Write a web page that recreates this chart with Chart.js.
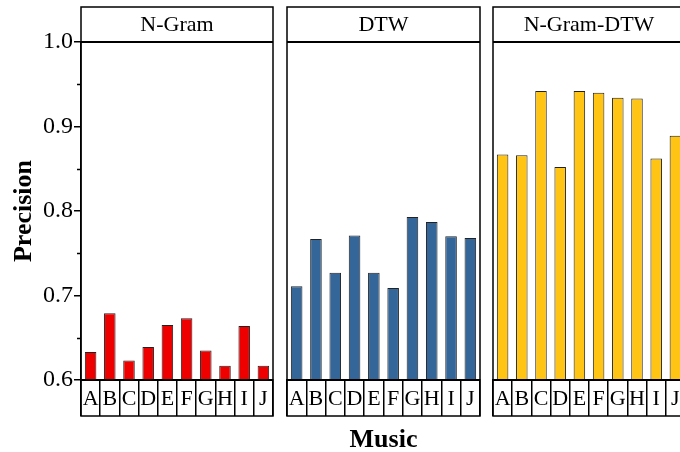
<!DOCTYPE html>
<html><head><meta charset="utf-8">
<script src="https://cdn.jsdelivr.net/npm/chart.js@4/dist/chart.umd.min.js"></script>
<style>
html,body{margin:0;padding:0;width:680px;height:452px;overflow:hidden;background:#fff;position:relative}
canvas{position:absolute;top:0}
</style></head><body>
<canvas id="c0" width="280" height="452" style="left:0"></canvas>
<canvas id="c1" width="210" height="452" style="left:280px"></canvas>
<canvas id="c2" width="200" height="452" style="left:487px"></canvas>
<script>
const categories = ['A','B','C','D','E','F','G','H','I','J'];
const panelTitles = ['N-Gram','DTW','N-Gram-DTW'];
const ngramValues = [0.633,0.679,0.623,0.639,0.665,0.673,0.635,0.617,0.664,0.617];
const dtwValues = [0.711,0.767,0.727,0.771,0.727,0.709,0.793,0.787,0.770,0.768];
const ngramDtwValues = [0.867,0.866,0.942,0.852,0.942,0.940,0.934,0.933,0.862,0.889];
const yTicks = [0.6,0.7,0.8,0.9,1.0];
const yMinorTicks = [0.65,0.75,0.85,0.95];
const xAxisTitle = 'Music';
const yAxisTitle = 'Precision';

const SERIF = '"Liberation Serif", "Times New Roman", serif';
const STRIP_H = 35;   // title strip height
const BOX_H = 36;     // category box strip height

const framePlugin = {
  id: 'frame',
  afterDatasetsDraw(chart, args, opts) {
    const {ctx, chartArea: a} = chart;
    const top = a.top - STRIP_H, bot = a.bottom + BOX_H;
    ctx.save();
    ctx.strokeStyle = '#000';
    ctx.lineWidth = 1.5;
    ctx.strokeRect(a.left, top, a.right - a.left, bot - top);
    ctx.lineWidth = 2;
    ctx.beginPath();
    ctx.moveTo(a.left, a.top); ctx.lineTo(a.right, a.top);
    ctx.moveTo(a.left, a.bottom); ctx.lineTo(a.right, a.bottom);
    ctx.stroke();
    ctx.fillStyle = '#000';
    ctx.font = '22px ' + SERIF;
    ctx.textAlign = 'center';
    ctx.textBaseline = 'middle';
    ctx.fillText(opts.title, (a.left + a.right) / 2, (top + a.top) / 2 + 1);
    if (opts.minor) {
      const ys = chart.scales.y;
      ctx.lineWidth = 1.5;
      ctx.beginPath();
      yMinorTicks.forEach(v => {
        const p = Math.round(ys.getPixelForValue(v)) + 0.5;
        ctx.moveTo(a.left - 4, p); ctx.lineTo(a.left, p);
      });
      ctx.stroke();
    }
    ctx.restore();
  }
};

function makePanel(id, idx, values, color, pad, showY, showXTitle) {
  new Chart(document.getElementById(id), {
    type: 'bar',
    data: {
      labels: categories,
      datasets: [{
        data: values,
        backgroundColor: color,
        borderColor: '#222',
        borderWidth: 1,
        borderSkipped: false,
        barPercentage: 0.6,
        categoryPercentage: 1.0
      }]
    },
    options: {
      responsive: false,
      animation: false,
      events: [],
      layout: { padding: pad },
      plugins: {
        legend: { display: false },
        tooltip: { enabled: false },
        frame: { title: panelTitles[idx], minor: showY }
      },
      scales: {
        x: {
          afterFit: s => { s.height = 72; },
          grid: {
            display: true, drawOnChartArea: false, drawTicks: true,
            tickLength: BOX_H, color: '#000', lineWidth: 1.5, offset: true
          },
          border: { display: true, color: '#000', width: 2 },
          ticks: {
            autoSkip: false, maxRotation: 0, padding: -30, color: '#000',
            font: { family: SERIF, size: 22 }
          },
          title: {
            display: showXTitle, text: xAxisTitle, color: '#000',
            font: { family: SERIF, size: 26, weight: 'bold' },
            padding: { top: 0, bottom: -4 }
          }
        },
        y: {
          display: showY,
          min: 0.6, max: 1.0,
          afterFit: s => { s.width = showY ? 81 : 0; },
          afterBuildTicks: s => { s.ticks = yTicks.map(v => ({ value: v })); },
          grid: {
            drawOnChartArea: false, drawTicks: true, tickLength: 7,
            color: '#000', lineWidth: 1.5
          },
          border: { display: true, color: '#000', width: 1.5 },
          ticks: {
            padding: 1, color: '#000',
            font: { family: SERIF, size: 24 },
            callback: v => Number(v).toFixed(1)
          },
          title: {
            display: true, text: yAxisTitle, color: '#000',
            font: { family: SERIF, size: 26, weight: 'bold' },
            padding: { top: 9, bottom: 0 }
          }
        }
      }
    },
    plugins: [framePlugin]
  });
}

makePanel('c0', 0, ngramValues, '#EE0000', { top: 42, left: 0, right: 7, bottom: 0 }, true, false);
makePanel('c1', 1, dtwValues, '#346699', { top: 42, left: 7, right: 10, bottom: 0 }, false, true);
makePanel('c2', 2, ngramDtwValues, '#FFC414', { top: 42, left: 6, right: 2, bottom: 0 }, false, false);
</script>
</body></html>
